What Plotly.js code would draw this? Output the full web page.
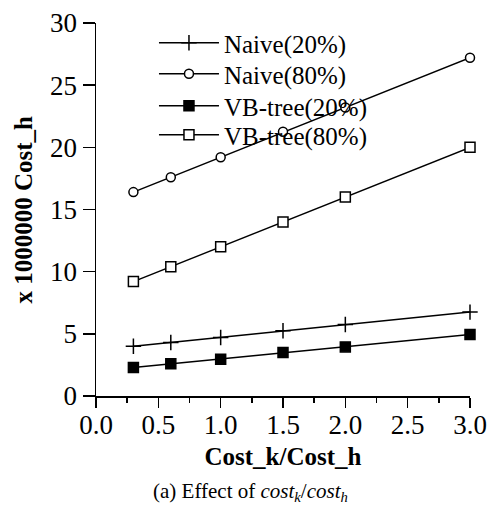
<!DOCTYPE html>
<html>
<head>
<meta charset="utf-8">
<script src="https://cdn.plot.ly/plotly-3.0.1.min.js"></script>
<style>html,body{margin:0;padding:0;background:#fff;}#chart{width:489px;height:508px;}</style>
</head>
<body>
<div id="chart"></div>
<script>
const ratio = [0.3, 0.6, 1.0, 1.5, 2.0, 3.0];
const naive20 = [4.0, 4.3, 4.7, 5.25, 5.75, 6.75];
const naive80 = [16.4, 17.6, 19.2, 21.25, 23.2, 27.2];
const vbtree20 = [2.3, 2.6, 2.95, 3.5, 3.95, 4.95];
const vbtree80 = [9.2, 10.4, 12.0, 14.0, 16.0, 20.0];
const seriesNames = ['Naive(20%)', 'Naive(80%)', 'VB-tree(20%)', 'VB-tree(80%)'];
const xTicks = [0.0, 0.5, 1.0, 1.5, 2.0, 2.5, 3.0];
const yTicks = [0, 5, 10, 15, 20, 25, 30];

const FONT = 'Liberation Serif';
const lineStyle = {color: '#000', width: 1.5};

function tr(y, name, symbol, size, fill, leg) {
  return {
    x: ratio, y: y, name: name, type: 'scatter', mode: 'lines+markers',
    line: lineStyle, legend: leg,
    marker: {symbol: symbol, size: size, color: fill, line: {color: '#000', width: 1.5}},
    cliponaxis: false
  };
}

const data = [
  tr(naive20, seriesNames[0], 'cross-thin-open', 11, '#000', 'legend'),
  tr(naive80, seriesNames[1], 'circle', 9, '#fff', 'legend2'),
  tr(vbtree20, seriesNames[2], 'square', 10, '#000', 'legend3'),
  tr(vbtree80, seriesNames[3], 'square', 10, '#fff', 'legend4')
];

// plot area: top 23px, bottom 396px
function legendAt(py) {
  return {
    x: 0.155, y: (396 - py) / 373, xanchor: 'left', yanchor: 'middle',
    bgcolor: 'rgba(0,0,0,0)', borderwidth: 0,
    font: {family: FONT, size: 25, color: '#000'},
    itemwidth: 60
  };
}

const layout = {
  width: 489, height: 508,
  margin: {l: 96, r: 19, t: 23, b: 112},
  paper_bgcolor: '#fff', plot_bgcolor: '#fff',
  font: {family: FONT, color: '#000'},
  showlegend: true,
  legend: legendAt(43),
  legend2: legendAt(74),
  legend3: legendAt(106),
  legend4: legendAt(135),
  xaxis: {
    range: [0, 3], tickvals: xTicks, tickformat: '.1f',
    showgrid: false, zeroline: false, showline: true, linecolor: '#000', linewidth: 1.5,
    ticks: 'outside', ticklen: 10, tickwidth: 1.5, tickcolor: '#000',
    ticklabelstandoff: -6,
    minor: {dtick: 0.25, ticks: 'outside', ticklen: 5, tickwidth: 1.5, tickcolor: '#000', showgrid: false},
    tickfont: {family: FONT, size: 27},
    title: {text: '<b>Cost_k/Cost_h</b>', font: {family: FONT, size: 25}, standoff: 8}
  },
  yaxis: {
    range: [0, 30], tickvals: yTicks,
    showgrid: false, zeroline: false, showline: true, linecolor: '#000', linewidth: 1.5,
    ticks: 'outside', ticklen: 12, tickwidth: 1.5, tickcolor: '#000',
    tickfont: {family: FONT, size: 27}
  },
  annotations: [{
    xref: 'paper', yref: 'paper', x: -0.195, y: 0.5, xanchor: 'center', yanchor: 'middle',
    textangle: -90, showarrow: false,
    text: '<b>x 1000000 Cost_h</b>',
    font: {family: FONT, size: 25, color: '#000'}
  }, {
    xref: 'paper', yref: 'paper', x: 0.414, y: -0.257, xanchor: 'center', yanchor: 'middle',
    showarrow: false,
    text: '(a) Effect of <i>cost</i><sub><i>k</i></sub>/<i>cost</i><sub><i>h</i></sub>',
    font: {family: FONT, size: 21, color: '#000'}
  }]
};

Plotly.newPlot('chart', data, layout, {displayModeBar: false, staticPlot: true});
</script>
</body>
</html>
